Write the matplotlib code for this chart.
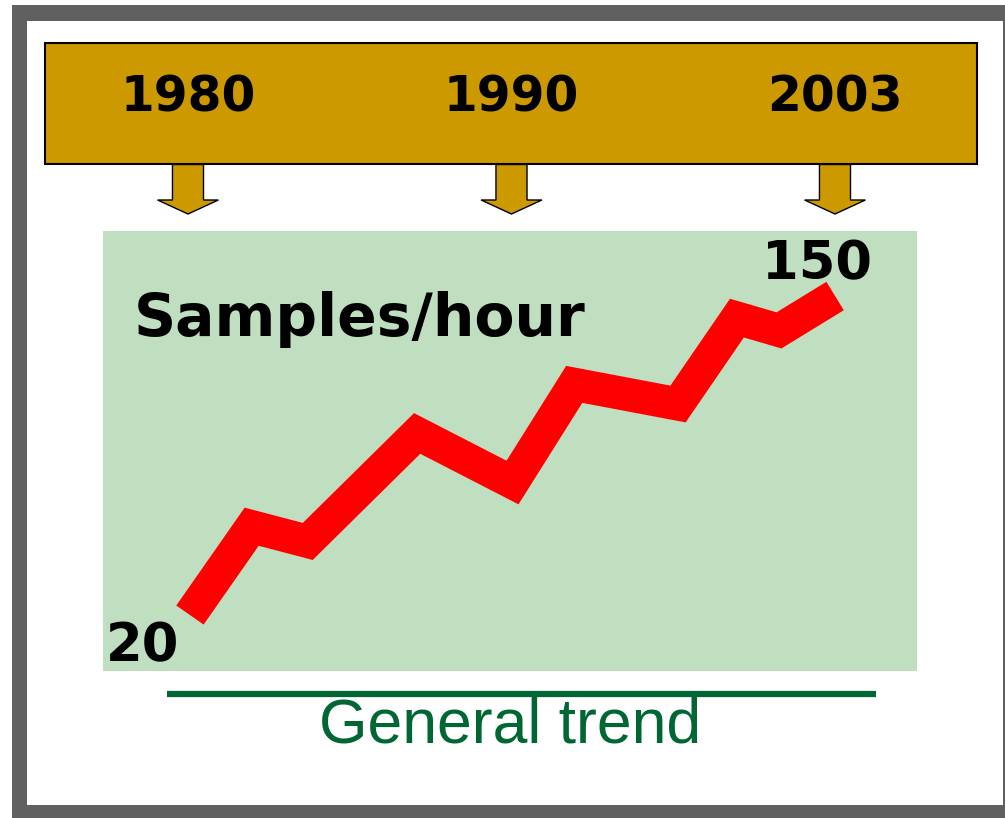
import numpy as np
import matplotlib.pyplot as plt
from matplotlib.patches import Rectangle, Polygon

# timeline labels
timeline_years = ['1980', '1990', '2003']

# general trend of throughput (samples/hour)
trend_years = [1980, 1982.2, 1984.2, 1988.1, 1991.5, 1993.7, 1997.4, 1999.5, 2001.0, 2003]
samples_per_hour = [20, 56, 50, 94, 74, 114, 106, 141, 136, 150]

W, H = 1005, 818
GOLD = '#CC9900'
PANEL = '#BFDFC0'
DKGREEN = '#006633'
RED = '#FF0000'
FRAME = '#606060'


def px_axes(fig, x0, y0, x1, y1):
    """Axes placed by pixel box (top-left origin)."""
    return fig.add_axes([x0 / W, 1 - y1 / H, (x1 - x0) / W, (y1 - y0) / H])


fig = plt.figure(figsize=(W / 100, H / 100), dpi=100)
fig.patch.set_facecolor('white')

# background frame
bg = fig.add_axes([0, 0, 1, 1])
bg.set_xlim(0, W)
bg.set_ylim(H, 0)
bg.axis('off')
bg.add_patch(Rectangle((12, 5), W - 12, H - 5, facecolor=FRAME, edgecolor='none'))
bg.add_patch(Rectangle((27, 21), 1003 - 27, 805 - 21, facecolor='white', edgecolor='none'))

# green trend line under the panel + caption
bg.plot([167, 876], [694, 694], color=DKGREEN, lw=4.5, solid_capstyle='butt')
bg.text(510, 726, 'General trend', color=DKGREEN, fontsize=45,
        family='Liberation Sans', ha='center', va='center')

# timeline box with arrows
tl = px_axes(fig, 45, 43, 977, 216)
tl.axis('off')
tl.set_ylim(216, 43)
tl.set_xlim(-0.442, 2.439)
tl.add_patch(Rectangle((-0.442, 43), 2.881, 121, facecolor=GOLD, edgecolor='black',
                       lw=1.5, clip_on=False))
shaft_w, head_w = 0.048, 0.094
for i, year in enumerate(timeline_years):
    tl.text(i, 98, year, fontsize=35, fontweight='bold', family='DejaVu Sans',
            ha='center', va='center', color='black')
    pts = [(i - shaft_w, 164.5), (i + shaft_w, 164.5), (i + shaft_w, 200),
           (i + head_w, 200), (i, 214), (i - head_w, 200), (i - shaft_w, 200)]
    tl.add_patch(Polygon(pts, closed=True, facecolor=GOLD, edgecolor='black',
                         lw=1, clip_on=False))

# trend panel
ax = px_axes(fig, 103, 231, 917, 671)
ax.set_facecolor(PANEL)
for s in ax.spines.values():
    s.set_visible(False)
ax.set_xticks([])
ax.set_yticks([])
ax.set_xlim(1976.9, 2005.92)
ax.set_ylim(-2.8, 176.5)

ax.plot(trend_years, samples_per_hour, color=RED, lw=24,
        solid_joinstyle='miter', solid_capstyle='butt')

ax.text(0.038, 0.80, 'Samples/hour', transform=ax.transAxes, fontsize=42,
        fontweight='bold', family='DejaVu Sans', ha='left', va='center')
ax.annotate(str(samples_per_hour[0]), (trend_years[0], samples_per_hour[0]),
            xytext=(-84, -46), textcoords='offset pixels', fontsize=38,
            fontweight='bold', family='DejaVu Sans', ha='left', va='baseline')
ax.annotate(str(samples_per_hour[-1]), (trend_years[-1], samples_per_hour[-1]),
            xytext=(-73, 17), textcoords='offset pixels', fontsize=38,
            fontweight='bold', family='DejaVu Sans', ha='left', va='baseline')

fig.savefig('out.png', dpi=100)
